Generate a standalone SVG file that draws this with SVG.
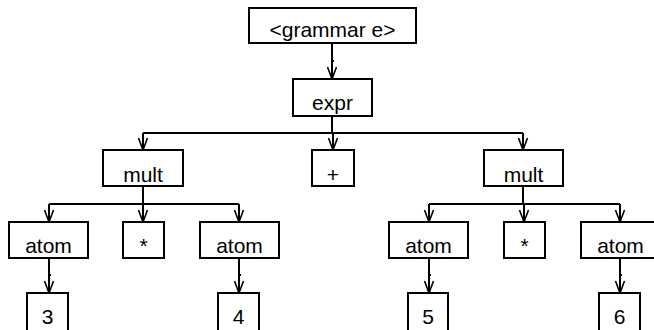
<svg xmlns="http://www.w3.org/2000/svg" width="654" height="330" viewBox="0 0 654 330">
<defs>
<marker id="arr" markerUnits="userSpaceOnUse" markerWidth="16" markerHeight="12" refX="12" refY="6" orient="auto" overflow="visible">
<path d="M0,1.5 L12,6 L0,10.5" fill="none" stroke="#000" stroke-width="1.6"/>
</marker>
<style>
.b{fill:#fff;stroke:#000;stroke-width:2}
.t{font-family:"Liberation Sans",Arial,sans-serif;font-size:21px;fill:#000;text-anchor:middle}
.c{fill:none;stroke:#000;stroke-width:2}
.a{fill:none;stroke:#000;stroke-width:2;marker-end:url(#arr)}
</style>
</defs>
<rect width="654" height="330" fill="#fff"/>
<g id="connectors">
<path class="a" d="M332,43 V79"/>
<rect x="331" y="60" width="3" height="2" fill="#000"/>
<path class="c" d="M332,116 V133 M143,133 H523"/>
<path class="a" d="M143,133 V150"/>
<path class="a" d="M333,133 V150"/>
<path class="a" d="M523,133 V150"/>
<path class="c" d="M143,186 V204 M49,204 H239"/>
<path class="a" d="M49,204 V222"/>
<path class="a" d="M143,204 V222"/>
<path class="a" d="M239,204 V222"/>
<path class="c" d="M523,186 V204 M429,204 H620"/>
<path class="a" d="M429,204 V222"/>
<path class="a" d="M524,204 V222"/>
<path class="a" d="M620,204 V222"/>
<path class="a" d="M49,258 V293"/>
<path class="a" d="M239,258 V293"/>
<path class="a" d="M429,258 V293"/>
<path class="a" d="M620,258 V293"/>
<rect x="48" y="274" width="3" height="2" fill="#000"/>
<rect x="238" y="274" width="3" height="2" fill="#000"/>
<rect x="428" y="274" width="3" height="2" fill="#000"/>
<rect x="619" y="274" width="3" height="2" fill="#000"/>
</g>
<g id="grammar"><rect class="b" x="249" y="8" width="167" height="35"/><text class="t" x="332.5" y="37">&lt;grammar e&gt;</text></g>
<g id="expr"><rect class="b" x="293" y="79" width="79" height="37"/><text class="t" x="332.5" y="110">expr</text></g>
<g id="multL"><rect class="b" x="103" y="150" width="80" height="36"/><text class="t" x="143" y="182">mult</text></g>
<g id="plus"><rect class="b" x="312" y="150" width="42" height="36"/><text class="t" x="333" y="182">+</text></g>
<g id="multR"><rect class="b" x="484" y="150" width="79" height="36"/><text class="t" x="523.5" y="182">mult</text></g>
<g id="atom1"><rect class="b" x="9" y="222" width="79" height="36"/><text class="t" x="48.5" y="253">atom</text></g>
<g id="star1"><rect class="b" x="123" y="222" width="41" height="36"/><text class="t" x="143.5" y="253">*</text></g>
<g id="atom2"><rect class="b" x="200" y="222" width="79" height="36"/><text class="t" x="239.5" y="253">atom</text></g>
<g id="atom3"><rect class="b" x="389" y="222" width="79" height="36"/><text class="t" x="428.5" y="253">atom</text></g>
<g id="star2"><rect class="b" x="504" y="222" width="41" height="36"/><text class="t" x="524.5" y="253">*</text></g>
<g id="atom4"><rect class="b" x="581" y="222" width="79" height="36"/><text class="t" x="620.5" y="253">atom</text></g>
<g id="n3"><rect class="b" x="27" y="293" width="41" height="38"/><text class="t" x="47.5" y="324">3</text></g>
<g id="n4"><rect class="b" x="218" y="293" width="41" height="38"/><text class="t" x="238.5" y="324">4</text></g>
<g id="n5"><rect class="b" x="408" y="293" width="40" height="38"/><text class="t" x="428" y="324">5</text></g>
<g id="n6"><rect class="b" x="599" y="293" width="41" height="38"/><text class="t" x="619.5" y="324">6</text></g>
</svg>
